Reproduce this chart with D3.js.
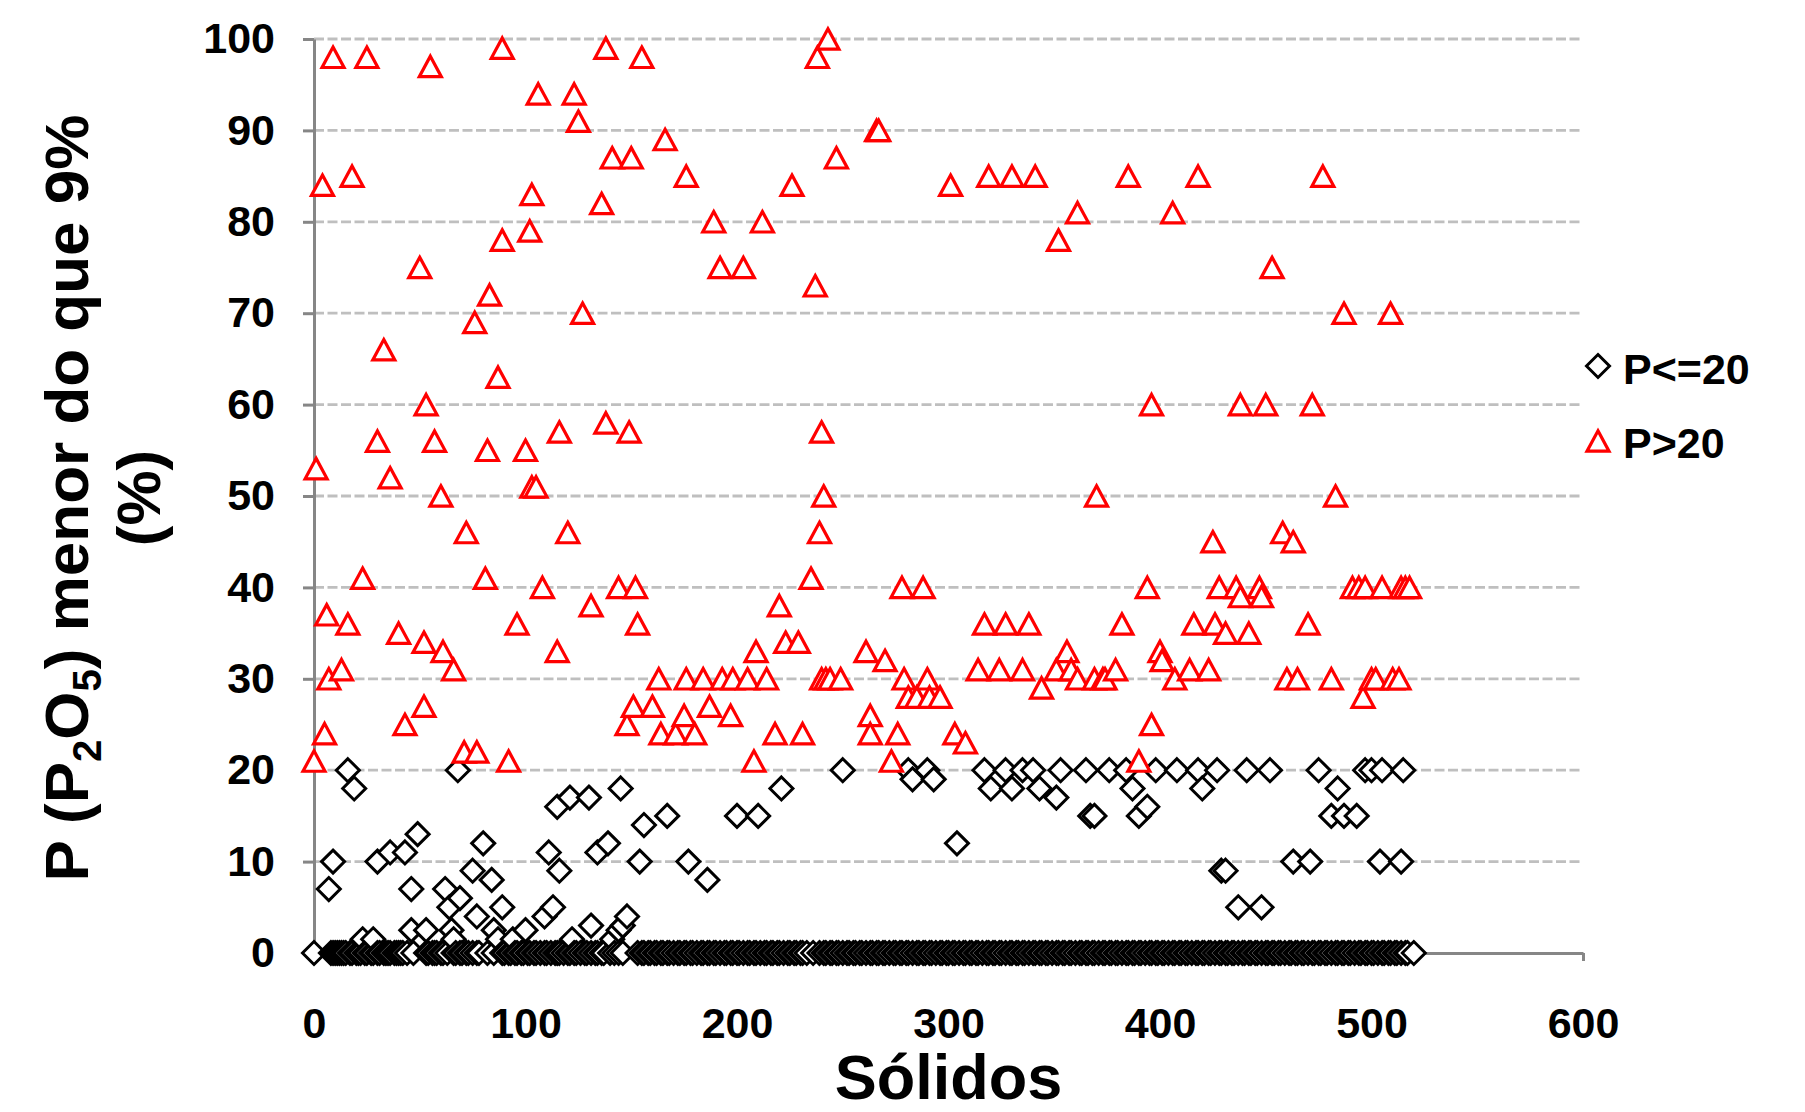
<!DOCTYPE html>
<html>
<head>
<meta charset="utf-8">
<script src="https://cdn.jsdelivr.net/npm/d3@7"></script>
<style>
  body { margin: 0; background: #fff; }
  text { font-family: "Liberation Sans", Arial, sans-serif; font-weight: bold; fill: #000; }
</style>
</head>
<body>
<script>
// P>20 series: [sample, %]
var highPts = [
  [0,21],[1,53],[4,84],[5,24],[6,37],[7,30],[9,98],[13,31],[16,36],[18,85],[23,41],[25,98],
  [30,56],[33,66],[36,52],[40,35],[43,25],[50,75],[52,27],[52,34],[53,60],[55,97],[57,56],
  [60,50],[61,33],[66,31],[71,22],[72,46],[76,69],[77,22],[81,41],[82,55],[83,72],[87,63],
  [89,99],[89,78],[92,21],[96,36],[100,55],[102,79],[103,83],[103,51],[105,51],[106,94],
  [108,40],[115,33],[116,57],[120,46],[123,94],[125,91],[127,70],[131,38],[136,82],[138,99],
  [138,58],[141,87],[144,40],[148,25],[149,57],[150,87],[151,27],[152,40],[153,36],[155,98],
  [160,27],[163,30],[164,24],[166,89],[171,24],[175,26],[176,30],[176,85],[180,24],[184,30],
  [187,27],[189,80],[192,75],[193,30],[197,26],[198,30],[203,75],[205,30],[208,21],[209,33],
  [212,80],[214,30],[218,24],[220,38],[223,34],[226,84],[229,34],[231,24],[235,41],[237,73],
  [238,98],[239,46],[240,57],[240,30],[241,50],[242,30],[243,100],[244,30],[247,87],[249,30],
  [261,33],[263,26],[263,24],[266,90],[267,90],[270,32],[273,21],[276,24],[278,40],[279,30],
  [281,28],[285,28],[288,40],[290,30],[291,28],[296,28],[301,84],[303,24],[308,23],[314,31],
  [317,36],[319,85],[324,31],[327,36],[330,85],[335,31],[338,36],[341,85],[344,29],[351,31],
  [352,78],[356,33],[358,31],[361,30],[361,81],[369,30],[370,50],[373,30],[374,30],[379,31],
  [382,36],[385,85],[390,21],[394,40],[396,25],[396,60],[400,33],[401,32],[406,81],[407,30],
  [414,31],[416,36],[418,85],[423,31],[425,45],[426,36],[428,40],[431,35],[436,40],[438,39],
  [438,60],[442,35],[447,40],[448,39],[450,60],[453,75],[458,46],[460,30],[463,45],[465,30],
  [470,36],[472,60],[477,85],[481,30],[483,50],[487,70],[491,40],[494,40],[496,28],[497,40],
  [500,30],[502,30],[505,40],[509,70],[510,30],[513,30],[514,40],[516,40],[518,40]
];

// P<=20 series, points above zero: [sample, %]
var lowPts = [
  [7,7],[9,10],[16,20],[19,18],[23,1.5],[28,1.5],[30,10],[36,11],[43,11],[46,7],[46,2.5],
  [49,13],[53,2.5],[62,7],[64,5],[65,2.5],[66,1.5],[68,20],[69,6],[75,9],[77,4],[80,12],
  [84,8],[85,2.5],[87,1.5],[89,5],[94,1.5],[100,2.5],[109,4],[111,11],[113,5],[115,16],
  [116,9],[121,17],[122,1.5],[130,17],[131,3],[134,11],[139,12],[141,1.5],[144,2.5],[145,18],
  [146,3],[148,4],[154,10],[156,14],[167,15],[177,10],[186,8],[200,15],[210,15],[221,18],
  [250,20],[281,20],[283,19],[290,20],[293,19],[304,12],[317,20],[320,18],[327,20],[330,18],
  [335,20],[340,20],[343,18],[351,17],[353,20],[365,20],[367,15],[369,15],[376,20],[384,20],
  [387,18],[390,15],[394,16],[398,20],[408,20],[418,20],[420,18],[427,20],[429,9],[431,9],
  [437,5],[441,20],[448,5],[452,20],[463,10],[471,10],[475,20],[481,15],[484,18],[487,15],
  [493,15],[497,20],[500,20],[504,10],[505,20],[514,10],[515,20]
];

// P<=20 series, samples sitting at zero
var lowZeroX = [
  0,8,9,10,11,12,13,14,15,17,18,20,21,22,24,25,27,28,30,31,33,34,35,36,38,39,40,41,42,44,47,
  53,54,56,57,58,60,61,63,66,67,69,70,72,73,75,77,78,82,85,89,90,92,93,95,96,98,99,101,102,
  104,105,107,109,110,112,114,115,116,118,120,121,123,124,126,128,129,131,133,134,136,137,
  140,142,144,146,
  153,155,156,158,159,161,162,164,165,167,168,170,172,173,175,176,178,179,181,183,184,186,
  187,189,190,192,194,195,197,198,200,201,203,205,206,208,209,211,213,214,216,217,219,220,
  222,224,225,227,228,230,231,233,236,239,241,242,244,245,247,248,250,252,253,255,256,258,
  259,261,263,264,266,267,269,270,272,274,275,277,278,280,281,283,285,286,288,289,291,292,
  294,296,297,299,300,302,303,305,307,308,310,311,313,314,316,318,319,321,322,324,325,327,
  329,330,332,333,335,336,338,340,341,343,344,346,347,349,351,352,354,355,357,358,360,362,
  363,365,366,368,369,371,373,374,376,377,379,380,382,384,385,387,388,390,391,393,395,396,
  398,399,401,402,404,406,407,409,410,412,413,415,417,418,420,421,423,424,426,428,429,431,
  432,434,435,437,439,440,442,443,445,446,448,450,451,453,454,456,457,459,461,462,464,465,
  467,468,470,472,473,475,476,478,479,481,483,484,486,487,489,490,492,494,495,497,498,500,
  501,503,505,506,508,509,511,512,514,516,517,520
];

var xTicks = [0, 100, 200, 300, 400, 500, 600];
var yTicks = [0, 10, 20, 30, 40, 50, 60, 70, 80, 90, 100];
var legendNames = ["P<=20", "P>20"];

var width = 1805, height = 1112;
// plot box edges (not named "top": that is a read-only window global)
var plotL = 314, plotR = 1583, plotT = 39, plotB = 953;

var svg = d3.select("body").append("svg")
  .attr("width", width)
  .attr("height", height);

svg.append("rect").attr("width", width).attr("height", height).attr("fill", "#fff");

var x = d3.scaleLinear().domain([0, 600]).range([plotL, plotR]);
var y = d3.scaleLinear().domain([0, 100]).range([plotB, plotT]);

// gridlines
svg.append("g")
  .selectAll("line")
  .data(yTicks.slice(1))
  .enter().append("line")
  .attr("x1", plotL).attr("x2", plotR - 3)
  .attr("y1", function (d) { return y(d); })
  .attr("y2", function (d) { return y(d); })
  .attr("stroke", "#bfbfbf")
  .attr("stroke-width", 2.8)
  .attr("stroke-dasharray", "10,3.5");

// y axis
var yAxis = svg.append("g")
  .attr("transform", "translate(" + plotL + ",0)")
  .call(d3.axisLeft(y).tickValues(yTicks).tickSize(11).tickPadding(28).tickSizeOuter(0));

// x axis
var xAxis = svg.append("g")
  .attr("transform", "translate(0," + plotB + ")")
  .call(d3.axisBottom(x).tickValues(xTicks).tickSize(8).tickPadding(62).tickSizeOuter(0));

[yAxis, xAxis].forEach(function (g) {
  g.select(".domain").attr("stroke", "#868686").attr("stroke-width", 3);
  g.selectAll(".tick line").attr("stroke", "#868686").attr("stroke-width", 3);
  g.selectAll(".tick text")
    .attr("fill", "#000")
    .style("font-size", "43px")
    .style("font-family", "'Liberation Sans', Arial, sans-serif")
    .style("font-weight", "bold");
});
xAxis.selectAll(".tick text").attr("dy", "0.35em");

// markers
var diamond = "M0,-11.5L11.5,0L0,11.5L-11.5,0Z";
var triangle = "M0,-10.2L11,10.2L-11,10.2Z";

var lowAll = lowZeroX.map(function (v) { return [v, 0]; }).concat(lowPts);
lowAll.sort(function (a, b) { return a[0] - b[0]; });

svg.append("g")
  .selectAll("path")
  .data(lowAll)
  .enter().append("path")
  .attr("d", diamond)
  .attr("transform", function (d) { return "translate(" + x(d[0]) + "," + y(d[1]) + ")"; })
  .attr("fill", "#fff")
  .attr("stroke", "#000")
  .attr("stroke-width", 3);

svg.append("g")
  .selectAll("path")
  .data(highPts)
  .enter().append("path")
  .attr("d", triangle)
  .attr("transform", function (d) { return "translate(" + x(d[0]) + "," + y(d[1]) + ")"; })
  .attr("fill", "#fff")
  .attr("stroke", "#ff0000")
  .attr("stroke-width", 3.2);

// legend
var legend = svg.append("g").attr("transform", "translate(1598,366)");
legend.append("path").attr("d", diamond)
  .attr("fill", "#fff").attr("stroke", "#000").attr("stroke-width", 3);
legend.append("text").attr("x", 25).attr("y", 18).style("font-size", "43px").text(legendNames[0]);
legend.append("path").attr("d", triangle).attr("transform", "translate(0,75)")
  .attr("fill", "#fff").attr("stroke", "#ff0000").attr("stroke-width", 3.2);
legend.append("text").attr("x", 25).attr("y", 92).style("font-size", "43px").text(legendNames[1]);

// axis titles
svg.append("text")
  .attr("x", (plotL + plotR) / 2)
  .attr("y", 1099)
  .attr("text-anchor", "middle")
  .style("font-size", "63px")
  .text("Sólidos");

var yTitle = svg.append("text")
  .attr("transform", "translate(88,498) rotate(-90)")
  .attr("text-anchor", "middle")
  .style("font-size", "62px");
yTitle.append("tspan").text("P (P");
yTitle.append("tspan").attr("dy", 13).style("font-size", "40px").text("2");
yTitle.append("tspan").attr("dy", -13).text("O");
yTitle.append("tspan").attr("dy", 13).style("font-size", "40px").text("5");
yTitle.append("tspan").attr("dy", -13).text(") menor do que 9%");

svg.append("text")
  .attr("transform", "translate(160,498) rotate(-90)")
  .attr("text-anchor", "middle")
  .style("font-size", "62px")
  .text("(%)");
</script>
</body>
</html>
